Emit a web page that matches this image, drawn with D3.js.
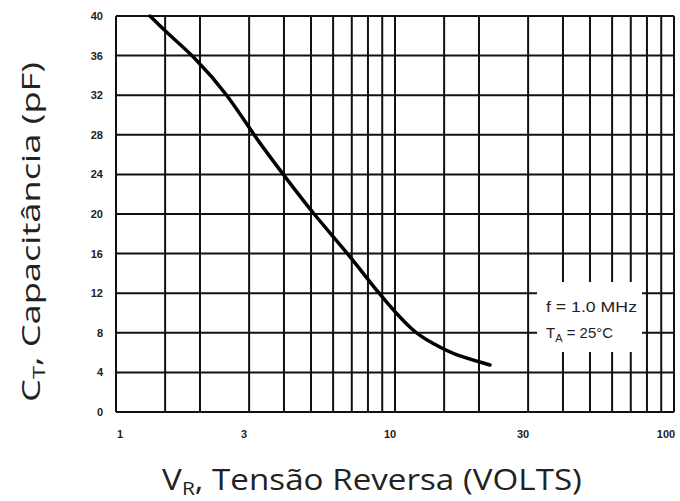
<!DOCTYPE html>
<html lang="pt">
<head>
<meta charset="UTF-8">
<title>Capacitância x Tensão Reversa</title>
<script src="https://d3js.org/d3.v7.min.js"></script>
<style>
  body { margin: 0; background: #fff; }
</style>
</head>
<body>
<svg id="main" width="680" height="501"></svg>
<script>
// tensão reversa (V) and capacitância (pF)
const vr = [1.324, 1.561, 1.893, 2.527, 3.105, 3.977, 5.095, 6.80, 8.71, 11.63, 13.72, 15.74, 21.9];
const ct = [40, 38, 36, 32, 28, 24, 20, 16, 12, 8, 6.94, 5.93, 4.75];

const xTickLabels = [1, 3, 10, 30, 100];
const yTicks = [0, 4, 8, 12, 16, 20, 24, 28, 32, 36, 40];
const xGrid = [1, 1.5, 2, 3, 4, 5, 6, 7, 8, 9, 10, 15, 20, 30, 40, 50, 60, 70, 80, 90, 100];

const mLeft = 116, mRight = 674, mTop = 16, mBottom = 412;

const svg = d3.select('svg#main');

const x = d3.scaleLog().domain([1, 100]).range([mLeft, mRight]);
const y = d3.scaleLinear().domain([0, 40]).range([mBottom, mTop]);

const grid = svg.append('g').attr('stroke', '#111').attr('stroke-width', 2);

grid.selectAll('line.v')
  .data(xGrid)
  .enter().append('line')
  .attr('class', 'v')
  .attr('x1', d => x(d)).attr('x2', d => x(d))
  .attr('y1', mTop).attr('y2', mBottom);

grid.selectAll('line.h')
  .data(yTicks)
  .enter().append('line')
  .attr('class', 'h')
  .attr('x1', mLeft).attr('x2', mRight)
  .attr('y1', d => y(d)).attr('y2', d => y(d));

// white box behind the note
svg.append('rect')
  .attr('x', 537).attr('y', 282)
  .attr('width', 105).attr('height', 70)
  .attr('fill', '#fff');

const note = svg.append('text')
  .attr('font-family', 'Liberation Sans, Arial, sans-serif')
  .attr('font-size', 15)
  .attr('fill', '#222');
note.append('tspan').attr('x', 546).attr('y', 312).text('f = 1.0 MHz')
  .attr('textLength', 91).attr('lengthAdjust', 'spacingAndGlyphs');
const t2 = note.append('tspan').attr('x', 546).attr('y', 338);
t2.append('tspan').text('T');
t2.append('tspan').attr('font-size', 11).attr('dy', 4).text('A');
t2.append('tspan').attr('dy', -4).text(' = 25°C');

// curve
const line = d3.line()
  .x(d => x(d[0]))
  .y(d => y(d[1]))
  .curve(d3.curveBasis);

svg.append('path')
  .datum(vr.map((v, i) => [v, ct[i]]))
  .attr('d', line)
  .attr('fill', 'none')
  .attr('stroke', '#000')
  .attr('stroke-width', 3.5)
  .attr('stroke-linecap', 'round');

// tick labels
svg.selectAll('text.ylab')
  .data(yTicks)
  .enter().append('text')
  .attr('class', 'ylab')
  .attr('x', 103)
  .attr('y', d => y(d) + 4)
  .attr('text-anchor', 'end')
  .attr('font-family', 'Liberation Sans, Arial, sans-serif')
  .attr('font-size', 11)
  .attr('font-weight', 'bold')
  .attr('fill', '#222')
  .text(d => d);

svg.selectAll('text.xlab')
  .data(xTickLabels)
  .enter().append('text')
  .attr('class', 'xlab')
  .attr('x', d => x(d) + (d === 1 ? 4 : d === 100 ? -8 : -5))
  .attr('y', 438)
  .attr('text-anchor', 'middle')
  .attr('font-family', 'Liberation Sans, Arial, sans-serif')
  .attr('font-size', 11)
  .attr('font-weight', 'bold')
  .attr('fill', '#222')
  .text(d => d);

// axis titles, stretched along their length to fit the reference span
function fitText(sel, target) {
  const w = sel.node().getBBox().width;
  return target / w;
}

const xt = svg.append('text')
  .attr('text-anchor', 'middle')
  .attr('font-family', 'Open Sans, sans-serif')
  .attr('font-size', 30)
  .attr('fill', '#222');
xt.append('tspan').text('V');
xt.append('tspan').attr('font-size', 19).attr('dy', 5).text('R');
xt.append('tspan').attr('dy', -5).text(', Tensão Reversa (VOLTS)');
xt.attr('transform', `translate(372,490) scale(${fitText(xt, 420)},1)`);

const yt = svg.append('text')
  .attr('text-anchor', 'middle')
  .attr('font-family', 'Open Sans, sans-serif')
  .attr('font-size', 26)
  .attr('fill', '#222');
yt.append('tspan').text('C');
yt.append('tspan').attr('font-size', 17).attr('dy', 5).text('T');
yt.append('tspan').attr('dy', -5).text(', Capacitância (pF)');
yt.attr('transform', `translate(40,232) rotate(-90) scale(${fitText(yt, 340)},1)`);
</script>
</body>
</html>
